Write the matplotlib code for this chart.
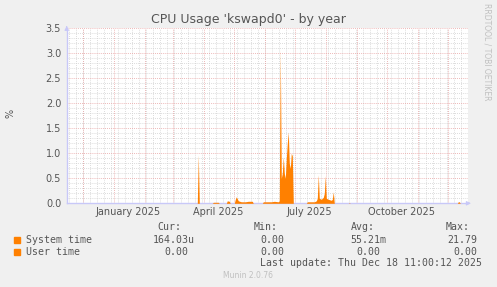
import pandas as pd
import matplotlib
matplotlib.use("Agg")
import matplotlib.pyplot as plt

# daily samples (System time, %)
dates = [
    "2024-11-14", "2025-03-25", "2025-03-26", "2025-03-27",
    "2025-04-09", "2025-04-10", "2025-04-15", "2025-04-16",
    "2025-04-23", "2025-04-24", "2025-04-26", "2025-04-27",
    "2025-05-01", "2025-05-02", "2025-05-03", "2025-05-05", "2025-05-08",
    "2025-05-12", "2025-05-15", "2025-05-19", "2025-05-20",
    "2025-05-29", "2025-05-30", "2025-06-07", "2025-06-10", "2025-06-14",
    "2025-06-15", "2025-06-16", "2025-06-17", "2025-06-18", "2025-06-19",
    "2025-06-20", "2025-06-21", "2025-06-22", "2025-06-23", "2025-06-24",
    "2025-06-25", "2025-06-26", "2025-06-27", "2025-06-28", "2025-06-29",
    "2025-07-12", "2025-07-13", "2025-07-20", "2025-07-22", "2025-07-23",
    "2025-07-24", "2025-07-25", "2025-07-27", "2025-07-29", "2025-07-30",
    "2025-07-31", "2025-08-01", "2025-08-03", "2025-08-06", "2025-08-07",
    "2025-08-08", "2025-08-09", "2025-08-23", "2025-08-24", "2025-08-25",
    "2025-12-10", "2025-12-11", "2025-12-12", "2025-12-13", "2025-12-18",
]
system_time = [
    0.0, 0.0, 0.97, 0.0,
    0.0, 0.02, 0.02, 0.0,
    0.0, 0.05, 0.04, 0.0,
    0.0, 0.08, 0.13, 0.05, 0.03,
    0.03, 0.04, 0.04, 0.0,
    0.0, 0.03, 0.03, 0.04, 0.03,
    0.05, 3.08, 0.5, 0.6, 0.93,
    0.6, 0.5, 0.9, 1.2, 1.43,
    0.8, 0.7, 1.0, 0.95, 0.0,
    0.0, 0.03, 0.03, 0.05, 0.1,
    0.57, 0.1, 0.08, 0.12, 0.2,
    0.55, 0.1, 0.08, 0.06, 0.08,
    0.23, 0.0, 0.0, 0.01, 0.0,
    0.0, 0.03, 0.03, 0.0, 0.0,
]
user_time = [0.0] * len(dates)

series_names = ["System time", "User time"]
cur_vals = ["164.03u", "0.00"]
min_vals = ["0.00", "0.00"]
avg_vals = ["55.21m", "0.00"]
max_vals = ["21.79", "0.00"]
month_labels = ["January 2025", "April 2025", "July 2025", "October 2025"]
label_dates = ["2025-01-15", "2025-04-15", "2025-07-15", "2025-10-15"]

ORANGE = "#ff8000"
TEXT = "#555555"
AXIS = "#c8c8f8"


def main():
    W, H = 497, 287
    fig = plt.figure(figsize=(W / 100, H / 100), dpi=100, facecolor="#f0f0f0")
    ax = fig.add_axes([66.7 / W, 1 - 203.3 / H, 401 / W, 175 / H])
    ax.set_facecolor("white")

    x = pd.to_datetime(dates)
    jan1 = pd.Timestamp("2025-01-01")
    ax.set_xlim(jan1 - pd.Timedelta(days=47.6), jan1 + pd.Timedelta(days=353.4))
    ax.set_ylim(0, 3.5)

    # grid (drawn under the data)
    for i in range(36):
        v = i * 0.1
        if i % 5 == 0:
            ax.axhline(v, color="#e8a0a0", lw=0.6, ls=(0, (1, 1.5)), zorder=1)
        else:
            ax.axhline(v, color="#d0d0d0", lw=0.6, ls=(0, (1, 1.5)), zorder=0.5)
    for w in pd.date_range("2024-11-17", "2025-12-20", freq="7D"):
        ax.axvline(w, color="#d0d0d0", lw=0.6, ls=(0, (1, 1.5)), zorder=0.5)
    for m in pd.date_range("2024-12-01", "2025-12-01", freq="MS"):
        ax.axvline(m, color="#e8a0a0", lw=0.6, ls=(0, (1, 1.5)), zorder=1)

    ax.fill_between(x, 0, system_time, color=ORANGE, lw=0, zorder=3)
    stacked = [a + b for a, b in zip(system_time, user_time)]
    ax.fill_between(x, system_time, stacked, color=ORANGE, lw=0, zorder=3)

    for s in ["top", "right"]:
        ax.spines[s].set_visible(False)
    for s in ["left", "bottom"]:
        ax.spines[s].set_color(AXIS)
        ax.spines[s].set_linewidth(1)
    ax.annotate("", xy=(0, 1.03), xytext=(0, 0.99), xycoords="axes fraction",
                arrowprops=dict(arrowstyle="-|>", color=AXIS, lw=0.8,
                                mutation_scale=6), annotation_clip=False)
    ax.annotate("", xy=(1.015, 0), xytext=(0.995, 0), xycoords="axes fraction",
                arrowprops=dict(arrowstyle="-|>", color=AXIS, lw=0.8,
                                mutation_scale=6), annotation_clip=False)

    ax.set_yticks([i * 0.5 for i in range(8)])
    ax.set_yticklabels([f"{i * 0.5:.1f}" for i in range(8)])
    ax.tick_params(axis="y", length=0, pad=4, labelsize=7, labelcolor=TEXT)
    ax.set_xticks(pd.to_datetime(label_dates))
    ax.set_xticklabels(month_labels)
    ax.tick_params(axis="x", length=0, pad=3, labelsize=7, labelcolor=TEXT)

    fig.text(248, H - 19, "CPU Usage 'kswapd0' - by year", transform=None,
             ha="center", va="center", fontsize=9, color=TEXT)
    fig.text(10, H - 113, "%", transform=None, rotation=90,
             ha="center", va="center", fontsize=7, color=TEXT)
    fig.text(487, H - 52, "RRDTOOL / TOBI OETIKER", transform=None, rotation=270,
             ha="center", va="center", fontsize=5.5, color="#c0c0c0")

    mono = dict(family="DejaVu Sans Mono", fontsize=7.15, color=TEXT,
                transform=None, va="center")
    for txt, xr in [("Cur:", 181.5), ("Min:", 278), ("Avg:", 375), ("Max:", 470)]:
        fig.text(xr, H - 227.3, txt, ha="right", **mono)
    rows_y = [240, 251.7]
    for i, name in enumerate(series_names):
        y = H - rows_y[i]
        fig.patches.append(plt.Rectangle((14 / W, (y - 3) / H), 5.5 / W, 6 / H,
                                         transform=fig.transFigure,
                                         color=ORANGE, figure=fig))
        fig.text(26, y, name, ha="left", **mono)
        fig.text(194.5 if i == 0 else 188.5, y, cur_vals[i], ha="right", **mono)
        fig.text(284.5, y, min_vals[i], ha="right", **mono)
        fig.text(386.5 if i == 0 else 380.5, y, avg_vals[i], ha="right", **mono)
        fig.text(477, y, max_vals[i], ha="right", **mono)
    fig.text(482.5, H - 263.3, "Last update: Thu Dec 18 11:00:12 2025",
             ha="right", **mono)
    fig.text(248, H - 276, "Munin 2.0.76", transform=None, ha="center",
             va="center", fontsize=5.5, color="#c0c0c0")

    fig.savefig("out.png", dpi=100, facecolor=fig.get_facecolor())


if __name__ == "__main__":
    main()
